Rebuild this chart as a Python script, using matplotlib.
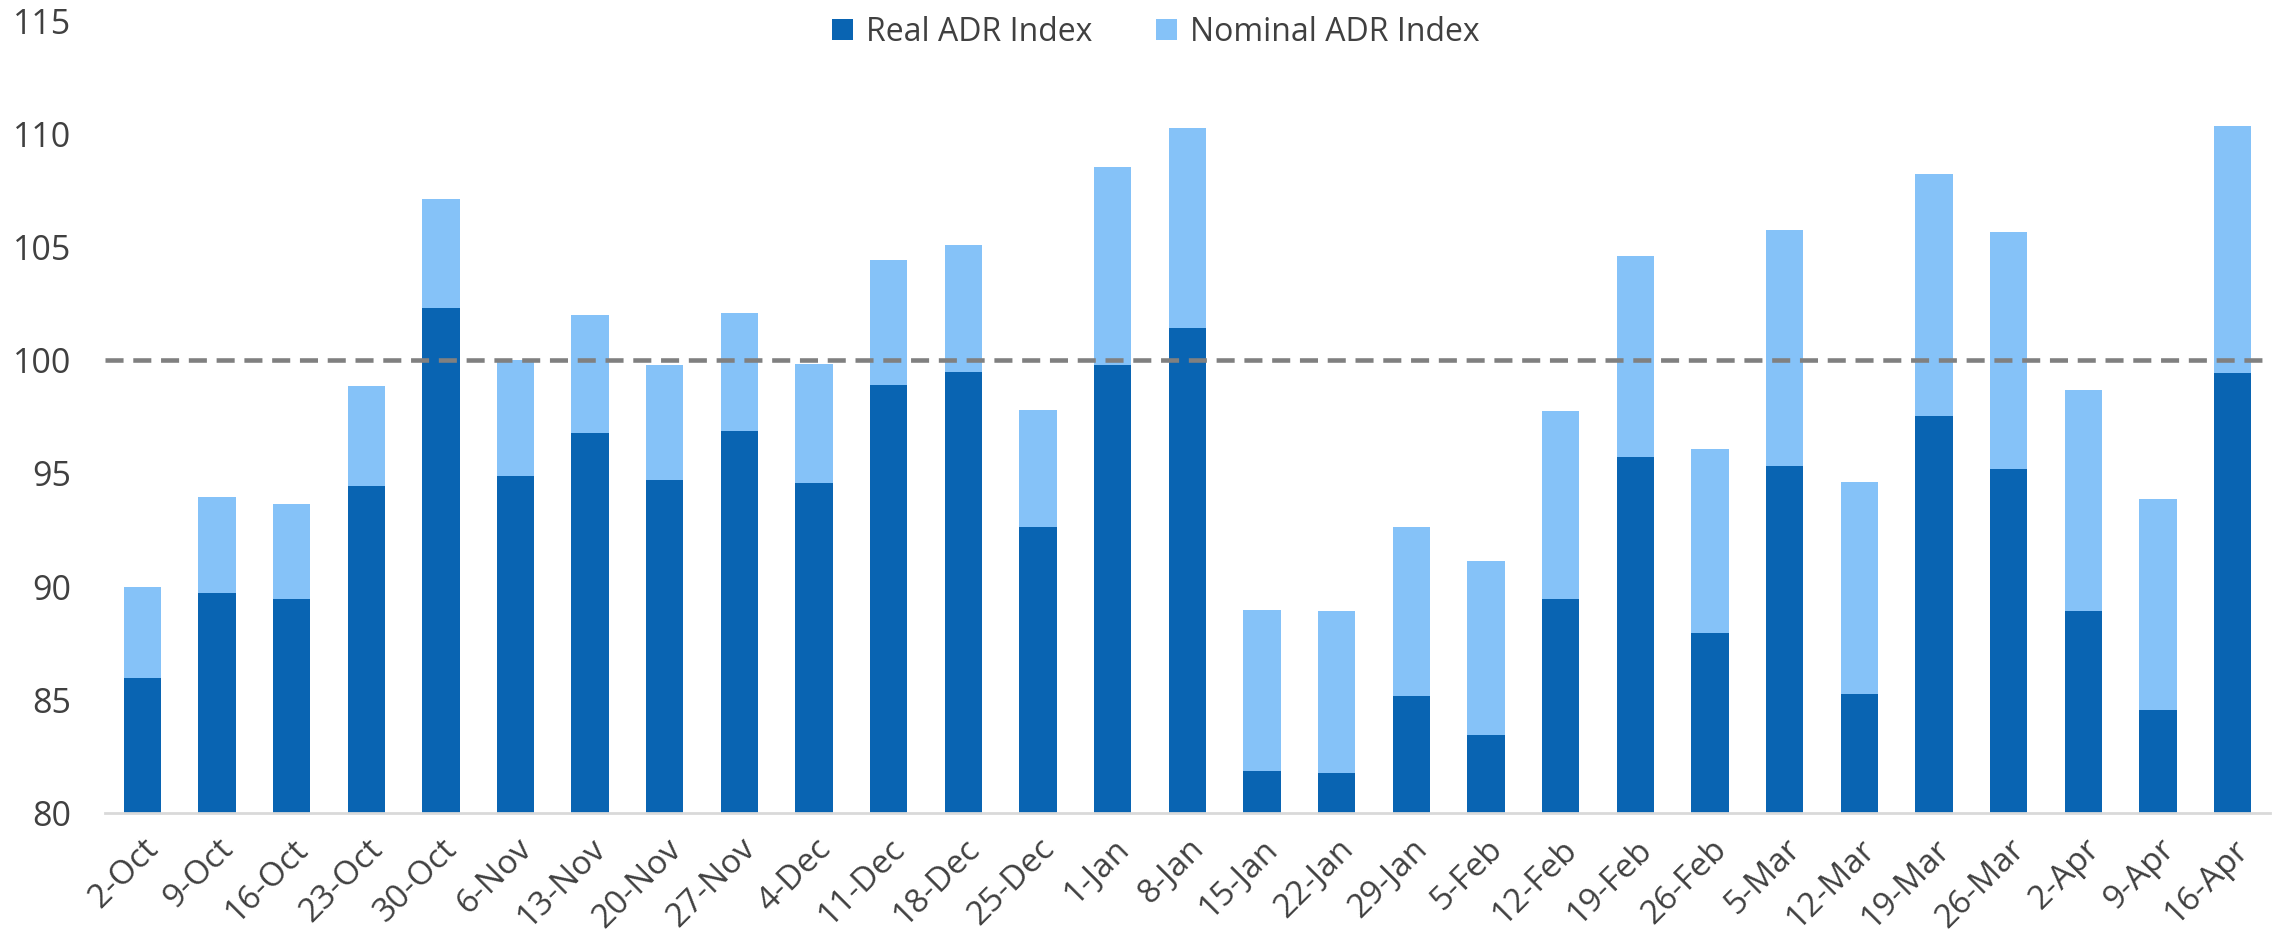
import numpy as np
from matplotlib import pyplot as plt

# weekly index values
weeks = ['2-Oct', '9-Oct', '16-Oct', '23-Oct', '30-Oct', '6-Nov', '13-Nov', '20-Nov',
         '27-Nov', '4-Dec', '11-Dec', '18-Dec', '25-Dec', '1-Jan', '8-Jan', '15-Jan',
         '22-Jan', '29-Jan', '5-Feb', '12-Feb', '19-Feb', '26-Feb', '5-Mar', '12-Mar',
         '19-Mar', '26-Mar', '2-Apr', '9-Apr', '16-Apr']

real_adr = [85.95, 89.72, 89.43, 94.45, 102.31, 94.90, 96.79, 94.69,
            96.89, 94.56, 98.91, 99.50, 92.62, 99.81, 101.43, 81.86,
            81.78, 85.15, 83.43, 89.46, 95.72, 87.94, 95.33, 85.26,
            97.53, 95.19, 88.90, 84.57, 99.44]

nominal_adr = [90.00, 93.94, 93.63, 98.86, 107.14, 100.00, 102.02, 99.79,
               102.10, 99.84, 104.44, 105.07, 97.82, 108.55, 110.28, 88.98,
               88.92, 92.62, 91.13, 97.74, 104.62, 96.07, 105.76, 94.63,
               108.23, 105.68, 98.67, 93.86, 110.36]

baseline = 100

REAL_COLOR = '#0964b2'
NOMINAL_COLOR = '#85c2f8'
TEXT_COLOR = '#404040'


def main():
	plt.rcParams['font.family'] = ['Open Sans', 'DejaVu Sans']
	plt.rcParams['lines.scale_dashes'] = False

	fig = plt.figure(figsize=(22.8, 9.42), dpi=100)
	ax = fig.add_axes([0.046, 0.137, 0.9496, 0.841])

	x = np.arange(len(weeks))
	bottom = 80
	# nominal sits behind the real bar, both start at the axis floor
	ax.bar(x, np.array(nominal_adr) - bottom, bottom=bottom, width=0.5,
	       color=NOMINAL_COLOR, label='Nominal ADR Index', zorder=2)
	ax.bar(x, np.array(real_adr) - bottom, bottom=bottom, width=0.5,
	       color=REAL_COLOR, label='Real ADR Index', zorder=3)

	ax.axhline(baseline, color='#808080', linewidth=3.3, dashes=(13, 7), zorder=4)

	ax.set_xlim(-0.5, len(weeks) - 0.5)
	ax.set_ylim(80, 115)
	ax.set_yticks(np.arange(80, 116, 5))

	ax.set_xticks(x)
	ax.set_xticklabels(weeks, rotation=45, ha='right', rotation_mode='anchor')

	ax.tick_params(axis='y', length=0, pad=24, labelsize=24.5, labelcolor=TEXT_COLOR)
	ax.tick_params(axis='x', length=0, pad=14, labelsize=24, labelcolor=TEXT_COLOR)

	for side in ('top', 'right', 'left'):
		ax.spines[side].set_visible(False)
	ax.spines['bottom'].set_color('#d9d9d9')
	ax.spines['bottom'].set_linewidth(2)
	ax.spines['bottom'].set_zorder(5)

	handles, labels = ax.get_legend_handles_labels()
	fig.legend(handles[::-1], labels[::-1], loc='center', bbox_to_anchor=(0.507, 0.966),
	           ncol=2, frameon=False, fontsize=23, labelcolor=TEXT_COLOR,
	           handlelength=0.65, handleheight=0.65, handletextpad=0.4, columnspacing=2.0)

	fig.savefig('out.png', dpi=100)


if __name__ == "__main__":
	main()
